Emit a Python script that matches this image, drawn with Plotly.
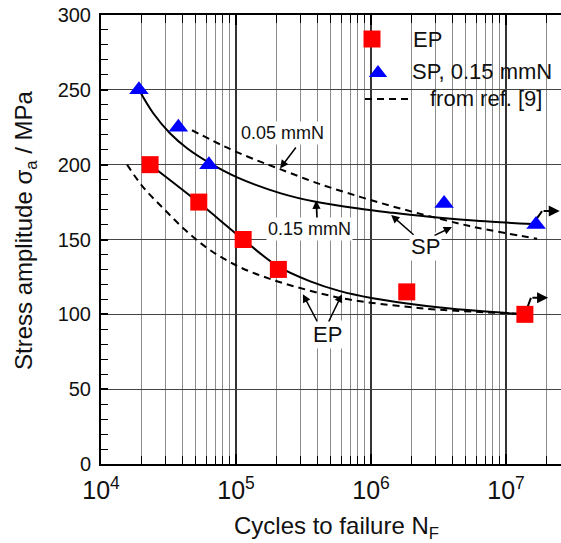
import plotly.graph_objects as go
import math

# ---- measured data -------------------------------------------------------
ep_cycles = [2.31e4, 5.3e4, 1.13e5, 2.06e5, 1.84e6, 1.38e7]
ep_stress = [200, 175, 150, 130, 115, 100]

sp_cycles = [1.91e4, 3.74e4, 6.3e4, 3.48e6, 1.67e7]
sp_stress = [250, 225, 200, 174, 160]

# ---- fitted S-N curves (this work) --------------------------------------
sp_fit_cycles = [1.91e4, 2.43e4, 3.24e4, 4.34e4, 6.41e4, 1.02e5, 2.12e5,
                 3.98e5, 8.3e5, 1.46e6, 2.6e6, 4.56e6, 6.41e6, 1.58e7]
sp_fit_stress = [250, 234.5, 221, 211, 201, 191.5, 181,
                 175, 170.5, 167.8, 165.3, 163.3, 162.3, 160.3]

ep_fit_cycles = [2.31e4, 5.24e4, 1.13e5, 2.05e5, 3.55e5, 5.9e5, 1.03e6,
                 1.85e6, 3.25e6, 6.4e6, 1.38e7]
ep_fit_stress = [200, 175, 150, 132, 122, 115.5, 110.8, 107.3, 104.6, 102.2, 100]

# ---- curves from ref. [9] -----------------------------------------------
ref_sp_cycles = [4.72e4, 9.0e4, 1.51e5, 2.12e5, 4.19e5, 8.3e5, 1.46e6,
                 2.6e6, 4.56e6, 6.41e6, 1.7e7]
ref_sp_stress = [223, 210.5, 202, 197, 187, 178.5, 172, 166, 160.5, 157.5, 150.5]

ref_ep_cycles = [1.56e4, 2.05e4, 2.88e4, 4.19e4, 6.41e4, 1.07e5, 1.88e5,
                 3.36e5, 5.9e5, 1.03e6, 1.85e6, 3.25e6, 1.27e7]
ref_ep_stress = [200, 185, 171, 156.5, 143, 131.5, 123, 116.3, 111,
                 107.6, 105, 103, 100.3]

# ---- run-out arrows (start, bend point, arrow tip) ----------------------
ep_runout_cycles = [1.38e7, 1.53e7, 2.05e7]
ep_runout_stress = [100, 111, 111]
sp_runout_cycles = [1.58e7, 1.85e7, 2.5e7]
sp_runout_stress = [160.3, 169, 169]

FONT = "Liberation Sans, Arial, sans-serif"
L, R, T, B = 101, 561, 15, 464      # plot area in px
W, H = 561, 543

def lg(v):
    return math.log10(v)

fig = go.Figure()

line_solid = dict(color="black", width=2, shape="spline", smoothing=1.0)
line_dash = dict(color="black", width=2, dash="7px,5px", shape="spline", smoothing=1.0)

fig.add_trace(go.Scatter(x=ref_sp_cycles, y=ref_sp_stress, mode="lines",
                         line=line_dash, showlegend=False, hoverinfo="skip"))
fig.add_trace(go.Scatter(x=ref_ep_cycles, y=ref_ep_stress, mode="lines",
                         line=line_dash, showlegend=False, hoverinfo="skip"))
fig.add_trace(go.Scatter(x=sp_fit_cycles, y=sp_fit_stress, mode="lines",
                         line=line_solid, showlegend=False, hoverinfo="skip"))
fig.add_trace(go.Scatter(x=ep_fit_cycles, y=ep_fit_stress, mode="lines",
                         line=line_solid, showlegend=False, hoverinfo="skip"))
fig.add_trace(go.Scatter(x=ep_runout_cycles[:2], y=ep_runout_stress[:2], mode="lines",
                         line=dict(color="black", width=2), showlegend=False))
fig.add_trace(go.Scatter(x=sp_runout_cycles[:2], y=sp_runout_stress[:2], mode="lines",
                         line=dict(color="black", width=2), showlegend=False))

fig.add_trace(go.Scatter(x=ep_cycles, y=ep_stress, mode="markers", name="EP",
                         marker=dict(symbol="square", size=17, color="#ff0000"),
                         showlegend=False))
fig.add_trace(go.Scatter(x=sp_cycles, y=sp_stress, mode="markers", name="SP, 0.15 mmN",
                         marker=dict(symbol="triangle-up", size=17, color="#0000ff"),
                         showlegend=False))

# ---- key drawn on a pixel overlay ---------------------------------------
fig.add_trace(go.Scatter(x=[372], y=[39], xaxis="x2", yaxis="y2", mode="markers",
                         marker=dict(symbol="square", size=17, color="#ff0000"),
                         showlegend=False, hoverinfo="skip"))
fig.add_trace(go.Scatter(x=[378], y=[73], xaxis="x2", yaxis="y2", mode="markers",
                         marker=dict(symbol="triangle-up", size=16, color="#0000ff"),
                         showlegend=False, hoverinfo="skip"))
fig.add_trace(go.Scatter(x=[365, 408], y=[99, 99], xaxis="x2", yaxis="y2", mode="lines",
                         line=dict(color="black", width=2, dash="7px,5px"),
                         showlegend=False, hoverinfo="skip"))

def px_x(p):
    return (p - L) / (R - L)

def px_y(p):
    return (B - p) / (B - T)

annotations = []
for txt, xp, yp in [("EP", 411, 39), ("SP, 0.15 mmN", 410, 71), ("from ref. [9]", 428, 98)]:
    annotations.append(dict(text=txt, x=px_x(xp), y=px_y(yp), xref="paper", yref="paper",
                            xanchor="left", yanchor="middle", showarrow=False,
                            font=dict(family=FONT, size=22, color="#111")))

# curve labels with white boxes
for txt, xp, yp, fs in [("0.05 mmN", 282, 133, 18), ("0.15 mmN", 309, 229, 18),
                        ("SP", 425, 247, 22), ("EP", 327, 334, 22)]:
    annotations.append(dict(text=txt, x=px_x(xp), y=px_y(yp), xref="paper", yref="paper",
                            xanchor="center", yanchor="middle", showarrow=False,
                            bgcolor="white", borderpad=1,
                            font=dict(family=FONT, size=fs, color="#111")))

# pointer arrows (head, tail) in data units
pointers = [
    ((2.12e5, 197.5), (2.83e5, 212.5)),
    ((3.92e5, 176.0), (3.98e5, 163.7)),
    ((1.41e6, 166.4), (2.12e6, 152.3)),
    ((3.98e6, 158.3), (2.88e6, 152.3)),
    ((3.13e5, 113.5), (4.05e5, 94.2)),
    ((6.1e5, 113.5), (4.8e5, 94.2)),
]
for (hx, hy), (tx, ty) in pointers:
    annotations.append(dict(x=lg(hx), y=hy, ax=lg(tx), ay=ty, xref="x", yref="y",
                            axref="x", ayref="y", text="", showarrow=True,
                            arrowhead=2, arrowsize=1.1, arrowwidth=1.5, arrowcolor="black"))

# run-out arrow heads
for cx, sy in [(ep_runout_cycles, ep_runout_stress), (sp_runout_cycles, sp_runout_stress)]:
    annotations.append(dict(x=lg(cx[2]), y=sy[2], ax=lg(cx[1]), ay=sy[1], xref="x", yref="y",
                            axref="x", ayref="y", text="", showarrow=True,
                            arrowhead=2, arrowsize=1.1, arrowwidth=2, arrowcolor="black"))

# axis titles
annotations.append(dict(text="Stress amplitude σ<sub>a</sub> / MPa", textangle=-90,
                        x=px_x(25), y=px_y(230), xref="paper", yref="paper",
                        xanchor="center", yanchor="middle", showarrow=False,
                        font=dict(family=FONT, size=24, color="#111")))
annotations.append(dict(text="Cycles to failure N<sub>F</sub>",
                        x=px_x(336), y=px_y(527), xref="paper", yref="paper",
                        xanchor="center", yanchor="middle", showarrow=False,
                        font=dict(family=FONT, size=24, color="#111")))

shapes = [
    # white key box hiding the grid
    dict(type="rect", xref="paper", yref="paper", x0=px_x(336), x1=1.0,
         y0=px_y(119), y1=1.0, fillcolor="white", line=dict(width=0), layer="between"),
]

fig.update_layout(
    width=W, height=H,
    margin=dict(l=L, r=W - R, t=T, b=H - B),
    paper_bgcolor="white", plot_bgcolor="white",
    font=dict(family=FONT, size=20, color="#111"),
    showlegend=False,
    annotations=annotations,
    shapes=shapes,
    xaxis=dict(
        type="log", range=[4, 4 + (R - L) / 135.0], dtick=1, exponentformat="power",
        showgrid=True, gridcolor="#333", gridwidth=1.5,
        ticks="inside", ticklen=10, tickwidth=1.5, tickcolor="black",
        minor=dict(dtick="D1", showgrid=True, gridcolor="#8c8c8c", gridwidth=1,
                   ticks="inside", ticklen=8, tickcolor="black", tickwidth=1),
        showline=True, linecolor="black", linewidth=2, mirror="ticks",
        tickfont=dict(family=FONT, size=20, color="#111"),
        ticklabelstandoff=4, zeroline=False,
    ),
    yaxis=dict(
        range=[0, 300], dtick=50, tick0=0,
        showgrid=True, gridcolor="#444", gridwidth=1.3,
        ticks="inside", ticklen=7, tickwidth=1.5, tickcolor="black",
        minor=dict(dtick=10, ticks="inside", ticklen=7, tickcolor="black", tickwidth=1,
                   showgrid=False),
        showline=True, linecolor="black", linewidth=2, mirror=False,
        tickfont=dict(family=FONT, size=20, color="#111"),
        ticklabelstandoff=4, zeroline=False,
    ),
    xaxis2=dict(range=[L, R], overlaying="x", anchor="y2", visible=False,
                showgrid=False, fixedrange=True),
    yaxis2=dict(range=[B, T], overlaying="y", anchor="x2", visible=False,
                showgrid=False, fixedrange=True),
)

fig.write_html("out.html")
